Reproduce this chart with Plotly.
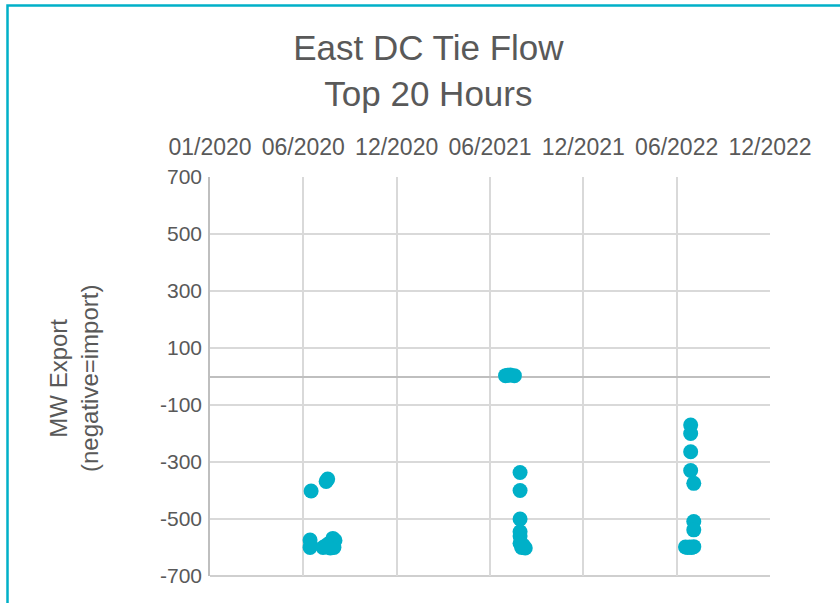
import plotly.graph_objects as go
from datetime import date, timedelta

# ---- data ----
dates_2020 = ["2020-07-14", "2020-08-12", "2020-08-15", "2020-07-12", "2020-07-12", "2020-07-13",
              "2020-08-06", "2020-08-10", "2020-08-16", "2020-08-25", "2020-08-29", "2020-08-27",
              "2020-08-20", "2020-08-14"]
mw_2020 = [-402, -368, -360, -574, -600, -592, -600, -596, -588, -568, -575, -600, -602, -598]

dates_2021 = ["2021-07-24", "2021-07-28", "2021-08-02", "2021-08-10", "2021-08-21", "2021-08-21",
              "2021-08-21", "2021-08-21", "2021-08-21", "2021-08-21", "2021-08-24", "2021-08-31",
              "2021-08-27"]
mw_2021 = [3, 4, 5, 3, -337, -400, -500, -545, -560, -585, -600, -602, -592]

dates_2022 = ["2022-07-16", "2022-07-16", "2022-07-16", "2022-07-16", "2022-07-22", "2022-07-22",
              "2022-07-22", "2022-07-06", "2022-07-10", "2022-07-14", "2022-07-18", "2022-07-22"]
mw_2022 = [-170, -200, -264, -330, -375, -509, -538, -598, -600, -598, -600, -597]

x_tick_labels = ["01/2020", "06/2020", "12/2020", "06/2021", "12/2021", "06/2022", "12/2022"]
y_tick_values = [700, 500, 300, 100, -100, -300, -500, -700]
y_tick_labels = ["700", "500", "300", "100", "-100", "-300", "-500", "-700"]

x_start = date(2020, 1, 1)
x_step_days = 180
x_tick_values = [(x_start + timedelta(days=x_step_days * i)).isoformat() for i in range(len(x_tick_labels))]
x_end = (x_start + timedelta(days=x_step_days * (len(x_tick_labels) - 1))).isoformat()

all_dates = dates_2020 + dates_2021 + dates_2022
all_mw = mw_2020 + mw_2021 + mw_2022

TEAL = "#00B0C8"
TXT = "#595959"
FONT = "Liberation Sans, Arial, sans-serif"

fig = go.Figure()
fig.add_trace(go.Scatter(
    x=all_dates, y=all_mw, mode="markers",
    marker=dict(color=TEAL, size=15, line=dict(width=0)),
    showlegend=False, hoverinfo="x+y",
))

fig.update_layout(
    width=840, height=603,
    margin=dict(l=210, r=70, t=177, b=27),
    paper_bgcolor="white", plot_bgcolor="white",
    font=dict(family=FONT, color=TXT),
    title=dict(text="East DC Tie Flow<br>Top 20 Hours", x=0.51, xanchor="center",
               y=0.90, yanchor="middle", yref="container",
               font=dict(size=35, color=TXT, family=FONT)),
    xaxis=dict(
        type="date", side="top", range=[x_tick_values[0], x_end],
        tickmode="array", tickvals=x_tick_values, ticktext=x_tick_labels,
        tickfont=dict(size=23, color=TXT), ticks="", ticklabelstandoff=16,
        showgrid=True, gridcolor="#D9D9D9", gridwidth=1.5,
        showline=False, zeroline=False,
    ),
    yaxis=dict(
        range=[-700, 700], tickmode="array", tickvals=y_tick_values, ticktext=y_tick_labels,
        tickfont=dict(size=21, color=TXT), ticks="", ticklabelstandoff=2,
        showgrid=True, gridcolor="#D9D9D9", gridwidth=1.5,
        showline=True, linecolor="#BFBFBF", linewidth=1.5,
        zeroline=True, zerolinecolor="#BFBFBF", zerolinewidth=1.5,
    ),
    annotations=[dict(
        text="MW Export<br>(negative=import)", textangle=-90,
        xref="paper", yref="paper", x=(74 - 210) / 560, y=(576 - 379) / 399,
        xanchor="center", yanchor="middle", showarrow=False,
        font=dict(size=24, color=TXT, family=FONT),
    )],
    shapes=[
        dict(type="line", xref="paper", yref="paper", x0=0, x1=1, y0=0, y1=0,
             line=dict(color="#BFBFBF", width=1.5), layer="below"),
        dict(type="rect", xref="paper", yref="paper",
             x0=(7.5 - 210) / 560, x1=1.3, y0=(576 - 5.5) / 399, y1=-0.2,
             line=dict(color=TEAL, width=2.5), fillcolor="rgba(0,0,0,0)"),
    ],
)

fig.write_html("out.html", config={"displayModeBar": False},
               post_script="document.body.style.margin='0px';")
